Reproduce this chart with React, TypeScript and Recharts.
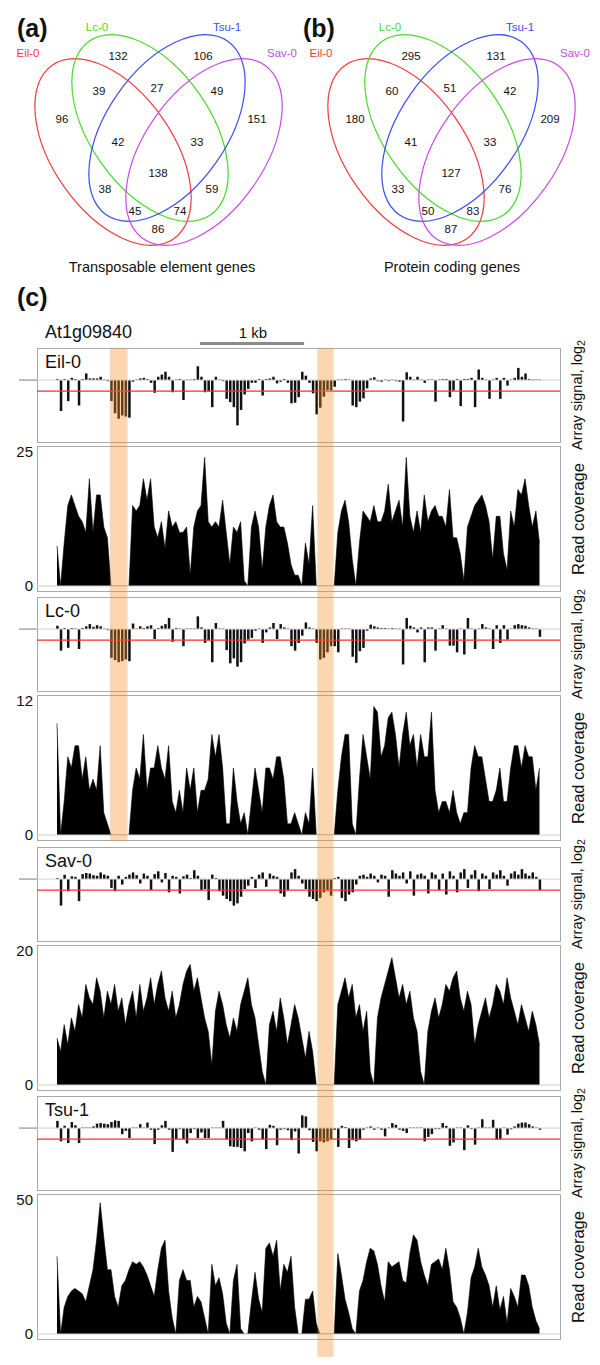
import React from 'react';
import {
  ComposedChart, ScatterChart, Scatter, Bar, Area, XAxis, YAxis,
  ReferenceLine, ReferenceArea,
} from 'recharts';

const FONT = "'Liberation Sans', Arial, Helvetica, sans-serif";

// ---------------- Venn data ----------------
const accessions = ['Eil-0', 'Lc-0', 'Tsu-1', 'Sav-0'];
const accessionColors = ['#f23a3a', '#48d92a', '#3a4cf2', '#c84ae6'];
// region order: L, T, EL, LT, TS, E, S, ELT, LTS, ELTS, ET, LS, ETS, ELS, ES
const vennRegions = ['L', 'T', 'EL', 'LT', 'TS', 'E', 'S', 'ELT', 'LTS', 'ELTS', 'ET', 'LS', 'ETS', 'ELS', 'ES'];
const teCounts = [132, 106, 39, 27, 49, 96, 151, 42, 33, 138, 38, 59, 45, 74, 86];
const pcCounts = [295, 131, 60, 51, 42, 180, 209, 41, 33, 127, 33, 76, 50, 83, 87];

// layout of the Venn drawing (chart coordinates)
const regionX = [118, 203, 99, 157, 217, 62, 257, 118, 197, 158, 105, 212, 135, 180, 158];
const regionY = [56, 56, 91, 88, 91, 119, 119, 142, 142, 173, 189, 189, 211, 211, 229];
const ellipseCX = [113, 150, 167, 204];
const ellipseCY = [152, 128, 128, 152];
const ellipseAngle = [55, 55, -55, -55];
const nameX = [28, 97, 227, 282];
const nameY = [53, 27, 27, 53];

// ---------------- Panel (c) data ----------------
const panelNames = ['Eil-0', 'Lc-0', 'Sav-0', 'Tsu-1'];
const thresholds = [-1, -1, -1, -1];
const coverageMax = [25, 12, 20, 50];

const eil0Signal = [
  0.1, -2.8, 0.1, -1.9, 0.2, 0.1, -2.3, 0.1, 0.6, 0.15, 0.15, 0.15, 0.3, 0.05, -0.1,
  -1.9, -3.0, -3.5, -3.2, -3.3, -3.4, -0.15, 0.05, 0.15, 0.2, 0.1, -0.25, -1.15, 0.3, 0.5,
  0.75, 0.3, -1.1, 0.05, 0.1, -1.8, 0.05, 0.05, 0.1, 1.25, 0.3, -1.1, -1.0, -2.45, 0.3,
  0.05, -0.1, -1.7, -2.0, -2.45, -4.1, -2.7, -1.3, -0.8, -0.25, -0.25, 0.1, -1.4, 0.1, 0.15,
  0.3, -0.3, -0.15, 0.1, -0.25, -2.1, -2.05, -1.55, 0.75, 0.4, -0.25, -1.2, -3.1, -2.5, -1.5,
  -0.9, -0.95, -0.6, 0.05, 0.05, 0.1, 0.05, -2.3, -2.45, -1.95, -1.65, -0.75, 0.15, 0.25, -0.1,
  -0.15, 0.05, -0.1, 0.05, -0.1, -0.15, -3.75, 0.7, 0.3, 0.05, 0.3, 0.05, -0.25, 0.05, 0.05,
  -1.95, 0.05, 0.1, 0.1, -1.55, -0.95, 0.1, -2.35, 0.1, 0.1, 0.2, -2.45, 0.95, 0.2, 0.05,
  -1.7, 0.05, 0.2, -1.7, 0.2, -0.5, 0.05, 0.2, 1.1, 0.3, 0.6, 0.1, 0.05, 0.05, 0.05,
];
const lc0Signal = [
  0.3, -1.95, 0.1, -1.7, 0.1, 0.05, -1.8, 0.1, 0.25, 0.45, 0.2, 0.35, 0.25, 0.05, -0.1,
  -2.6, -2.8, -3.0, -2.9, -2.75, -2.9, 0.5, 0.05, 0.25, 0.1, 0.25, 0.35, -0.9, 0.1, 0.3,
  0.45, 1.0, -1.15, 0.1, 0.05, -1.55, 0.05, 0.05, 0.05, 1.15, 0.15, -1.25, -1.0, -3.0, 0.55,
  0.05, 0.05, -1.9, -3.1, -2.65, -3.4, -3.0, -1.3, -0.95, -0.8, -0.15, 0.05, -1.25, -0.3, 0.15,
  0.55, -0.9, 0.45, 0.15, 0.05, -1.55, -1.95, -1.25, -0.6, 0.6, 0.15, 0.05, -1.25, -2.75, -2.6,
  -2.1, -1.55, -1.55, -2.1, 0.05, 0.05, 0.05, -2.5, -3.05, -2.0, -1.7, -0.15, 0.4, 0.25, 0.15,
  0.1, 0.1, 0.05, 0.1, 0.05, 0.05, -3.2, 1.0, 0.3, 0.15, -0.3, 0.15, -3.0, 0.15, 0.15,
  -1.95, 0.05, 0.35, 0.05, -1.5, -1.5, -2.1, 0.05, -2.3, 1.0, 0.05, -1.8, 0.05, 0.45, 0.15,
  0.05, -1.8, 0.35, -1.25, 0.35, -0.95, 0.05, 0.35, 0.45, 0.35, 0.3, 0.15, 0.05, 0.05, -0.7,
];
const sav0Signal = [
  0.1, -2.4, 0.4, -1.1, 0.25, 0.2, -2.0, 0.45, 0.55, 0.5, 0.35, 0.3, 0.6, 0.4, 0.3,
  -0.8, -1.1, 0.3, -0.5, 0.2, 0.4, 0.6, 0.35, -0.4, 0.5, 0.3, -1.0, 0.45, 0.7, -0.3,
  0.55, -1.2, 0.3, 0.2, -1.3, 0.25, 0.4, 0.1, 0.8, 0.3, -1.0, -0.9, -1.9, 0.4, 0.1,
  -1.1, -1.5, -1.8, -2.0, -2.4, -2.2, -1.6, -0.9, -0.6, 0.2, -0.8, 0.4, 0.6, -0.7, 0.5,
  0.3, 0.2, -1.3, -1.6, -1.0, 0.6, 0.9, 0.3, -0.4, -0.9, -1.6, -1.8, -2.0, -1.7, -1.2,
  -1.0, -1.5, 0.1, 0.2, -1.7, -2.0, -1.4, -1.2, -0.5, 0.3, 0.4, 0.2, 0.5, 0.3, -0.3,
  0.4, 0.3, -1.6, 0.8, 0.5, 0.3, 0.6, -0.4, 0.7, -1.5, 0.4, 0.5, 0.3, -1.3, 0.6,
  0.4, -1.0, 0.5, -1.4, 0.7, 0.3, -1.2, 0.6, 0.9, -0.8, 0.4, 0.8, -1.1, 0.5, 0.3,
  -0.9, 0.6, 0.4, 0.8, 0.3, -0.6, 0.5, 0.7, 0.4, 0.9, 0.5, 0.3, 0.6, 0.2, -1.0,
];
const tsu1Signal = [
  0.65, -1.2, 0.2, -1.35, 0.55, 0.25, -1.35, 0.05, 0.05, 0.05, 0.15, 0.4, 0.45, 0.4, 0.35,
  0.55, 0.7, 0.65, -0.55, -0.25, -0.9, 0.05, 0.05, 0.35, 0.05, 0.5, -0.15, -1.45, -0.15, 0.25,
  0.65, -0.15, -2.15, -1.0, -0.1, -1.0, -1.4, -0.45, -0.1, -0.9, -0.4, -0.9, -0.9, 0.05, 0.05,
  0.05, 0.65, -1.0, -1.65, -1.7, -1.7, -1.8, -2.1, -0.45, -1.2, 0.05, -0.15, -1.0, -1.9, 0.3,
  0.2, -1.55, -0.15, -0.1, -0.2, -1.1, -0.3, -2.3, 1.15, 1.05, -0.2, -1.25, -2.1, -1.2, -1.3,
  -1.2, -1.0, -0.15, -1.7, 0.2, 0.1, -1.8, -1.1, -1.2, -1.05, -0.15, 0.05, 0.15, -0.15, 0.05,
  -0.15, -0.75, 0.05, 0.45, 0.3, -0.15, -0.25, -0.45, 0.05, 0.05, 0.05, 0.05, -1.2, -0.8, -0.55,
  -0.1, -0.1, 0.45, 0.2, -1.6, -1.3, 0.05, 0.05, -2.0, 0.25, -0.1, -1.5, 0.05, 0.8, 0.05,
  0.05, 0.75, -1.05, -1.0, 0.05, -0.6, -0.1, 0.15, 0.4, 0.5, 0.5, 0.35, 0.15, 0.05, -0.15,
];

const eil0Coverage = [
  7.5, 0, 8, 15, 17, 15, 13, 12, 10, 20, 10, 17, 17, 11, 9,
  0, 0, 0, 0, 0, 0, 15, 14, 15, 20, 16, 20, 11, 9, 12,
  7, 14, 11, 12, 10, 10, 11, 2, 11, 14, 15, 24, 12, 11, 12,
  11, 16, 10, 4, 11, 10, 12, 1, 0, 11, 14, 11, 3, 11, 15,
  17, 12, 11, 11, 8, 4, 2, 2, 0, 8, 4, 15, 0, 0, 0,
  0, 0, 0, 10, 14, 16, 12, 5, 0, 8, 14, 13, 12, 15, 12,
  12, 14, 19, 12, 14, 16, 11, 24, 13, 10, 14, 10, 17, 12, 14,
  15, 13, 13, 11, 18, 9, 9, 6, 1, 11, 13, 15, 16, 17, 15,
  12, 5, 13, 13, 6, 3, 14, 11, 18, 17, 20, 15, 11, 14, 8,
];
const lc0Coverage = [
  10, 0, 3, 7, 6, 8, 8, 5, 7, 4, 5, 4, 8, 2, 1,
  0, 0, 0, 0, 0, 0, 4, 6, 5, 9, 4, 6, 6, 8, 6,
  5, 8, 3, 2, 4, 2, 6, 4, 6, 2, 4, 4, 5, 9, 7,
  9, 6, 1, 1, 6, 3, 1, 2, 0, 3, 6, 4, 2, 6, 6,
  5, 7, 7, 5, 1, 1, 2, 1, 0, 2, 1, 6, 0, 0, 0,
  0, 0, 0, 4, 7, 9, 9, 1, 0, 5, 9, 7, 5, 11.5, 11,
  7, 8, 10.5, 11, 9, 6, 9, 11, 8, 9, 6, 9, 7, 7, 11,
  4, 2, 3, 3, 2, 4, 2, 1, 2, 2, 6, 8, 7, 7, 5,
  3, 3, 4, 6, 3, 3, 6, 8, 8, 6, 8, 7, 7, 4, 6,
];
const sav0Coverage = [
  7, 5, 9, 6, 10, 8, 12, 10, 15, 13, 12, 16, 14, 10, 14,
  12, 15, 11, 13, 9, 12, 14, 10, 15, 11, 13, 16, 12, 15, 17,
  13, 11, 14, 10, 12, 15, 17, 18, 14, 16, 13, 10, 8, 3, 11,
  14, 12, 9, 7, 10, 8, 12, 14, 16, 12, 10, 6, 2, 0, 9,
  11, 8, 13, 10, 6, 9, 12, 10, 7, 4, 8, 5, 0, 0, 0,
  0, 0, 0, 12, 14, 16, 13, 15, 10, 12, 8, 11, 2, 0, 10,
  13, 15, 17, 19, 16, 13, 15, 12, 14, 10, 8, 2, 0, 8, 11,
  13, 10, 12, 15, 14, 16, 17, 13, 11, 14, 12, 6, 9, 11, 13,
  10, 12, 15, 14, 12, 16, 13, 11, 9, 12, 10, 8, 11, 9, 6,
];
const tsu1Coverage = [
  29, 0, 10, 14, 16, 17, 16, 15, 12, 18, 24, 35, 49, 36, 24,
  24, 14, 10, 18, 20, 24, 27, 26, 27, 25, 22, 18, 14, 24, 32,
  35, 16, 6, 0, 20, 24, 20, 20, 10, 14, 12, 6, 0, 26, 18,
  21, 15, 4, 0, 20, 26, 2, 0, 0, 12, 23, 13, 8, 32, 34,
  29, 35, 16, 26, 23, 29, 10, 0, 0, 13, 13, 16, 4, 0, 0,
  0, 0, 0, 30, 22, 13, 8, 2, 0, 16, 20, 27, 32, 31, 26,
  18, 12, 27, 25, 26, 27, 20, 19, 30, 37, 35, 27, 22, 18, 26,
  27, 28, 24, 32, 24, 12, 10, 6, 0, 8, 21, 25, 32, 25, 22,
  18, 10, 18, 9, 14, 4, 17, 14, 10, 22, 22, 18, 10, 5, 2,
];

const signals = [eil0Signal, lc0Signal, sav0Signal, tsu1Signal];
const coverages = [eil0Coverage, lc0Coverage, sav0Coverage, tsu1Coverage];

// highlighted regions (probe-index coordinates) and the last panel each one spans
const highlightStart = [14.7, 72.3];
const highlightEnd = [19.6, 76.8];
const highlightLastPanel = [1, 3];
// scale bar: 1 kb in probe-index units
const scaleBarStart = 39.7;
const scaleBarLength = 28.9;

// ---------------- layout ----------------
const CHART_W = 600;
const PLOT_LEFT = 37;
const PLOT_RIGHT = 40;
const PLOT_W = CHART_W - PLOT_LEFT - PLOT_RIGHT;
const SIG_H = 94;
const COV_H = 145;
const COV_GAP = 4;
const PANEL_TOPS = [348, 597, 847, 1096];
const OVERLAY_TOP = 330;
const OVERLAY_BOTTOM = 1357;
const BOX = '#a9a9a9';
const X_DOMAIN: [number, number] = [-5.55, 139.7];
const SIG_DOMAIN: [number, number] = [-5.6, 2.9];
const COV_PAD = 12;

function Txt({ x, y, size, children, anchor = 'start', bold = false, color = '#111' }: any) {
  const tx = anchor === 'middle' ? '-50%' : anchor === 'end' ? '-100%' : '0';
  return (
    <div
      style={{
        position: 'absolute', left: x, top: y - size * 0.49, fontSize: size,
        lineHeight: `${size}px`, fontWeight: bold ? 700 : 400, color,
        whiteSpace: 'nowrap', transform: `translateX(${tx})`,
      }}
    >
      {children}
    </div>
  );
}

function VLabel({ x, y, size, children }: any) {
  return (
    <div
      style={{
        position: 'absolute', left: x, top: y, fontSize: size, lineHeight: `${size}px`,
        whiteSpace: 'nowrap', color: '#111', transform: 'translate(-50%, -50%) rotate(-90deg)',
      }}
    >
      {children}
    </div>
  );
}

function Frame({ top, height }: any) {
  return (
    <div style={{
      position: 'absolute', left: PLOT_LEFT, top, width: PLOT_W + 1, height: height + 1,
      border: `1px solid ${BOX}`, boxSizing: 'border-box',
    }} />
  );
}

function Venn({ left, counts }: any) {
  const ellipses = accessions.map((name, k) => ({ x: ellipseCX[k], y: ellipseCY[k], k, name }));
  const names = accessions.map((name, k) => ({ x: nameX[k], y: nameY[k], k, name }));
  const nums = vennRegions.map((r, j) => ({ x: regionX[j], y: regionY[j], region: r, count: counts[j] }));
  return (
    <div style={{ position: 'absolute', left, top: 0, width: 300, height: 280 }}>
      <ScatterChart width={300} height={280} margin={{ top: 0, right: 0, bottom: 0, left: 0 }}>
        <XAxis type="number" dataKey="x" domain={[0, 300]} hide />
        <YAxis type="number" dataKey="y" domain={[0, 280]} reversed hide />
        <Scatter
          data={ellipses}
          isAnimationActive={false}
          shape={(p: any) => (
            <ellipse
              cx={p.cx} cy={p.cy} rx={106} ry={60}
              transform={`rotate(${ellipseAngle[p.payload.k]} ${p.cx} ${p.cy})`}
              fill="none" stroke={accessionColors[p.payload.k]} strokeWidth={1.2}
            />
          )}
        />
        <Scatter
          data={names}
          isAnimationActive={false}
          shape={(p: any) => (
            <text x={p.cx} y={p.cy} textAnchor="middle" dominantBaseline="central"
              fontSize={11.5} fill={accessionColors[p.payload.k]} fontFamily={FONT}>
              {p.payload.name}
            </text>
          )}
        />
        <Scatter
          data={nums}
          isAnimationActive={false}
          shape={(p: any) => (
            <text x={p.cx} y={p.cy} textAnchor="middle" dominantBaseline="central"
              fontSize={11.5} fill="#111" fontFamily={FONT}>
              {p.payload.count}
            </text>
          )}
        />
      </ScatterChart>
    </div>
  );
}

function SignalPanel({ values, threshold, top }: any) {
  const data = values.map((v: number, i: number) => ({ i, v }));
  return (
    <>
      <Frame top={top} height={SIG_H} />
      <div style={{ position: 'absolute', left: 0, top, width: CHART_W, height: SIG_H }}>
        <ComposedChart width={CHART_W} height={SIG_H} data={data}
          margin={{ top: 0, right: PLOT_RIGHT, bottom: 0, left: 0 }}>
          <XAxis dataKey="i" type="number" domain={X_DOMAIN} allowDataOverflow hide />
          <YAxis type="number" domain={SIG_DOMAIN} allowDataOverflow ticks={[0]} interval={0}
            width={PLOT_LEFT} tickSize={18} tickLine={{ stroke: '#7a7a7a' }} tickFormatter={() => ''}
            axisLine={false} />
          <ReferenceLine y={0} stroke="#d2d2d2" />
          <ReferenceLine y={threshold} stroke="#ff2b2b" strokeWidth={1.3} />
          <Bar dataKey="v" fill="#111" barSize={2.5} isAnimationActive={false} />
        </ComposedChart>
      </div>
    </>
  );
}

function CoveragePanel({ values, max, top }: any) {
  const data = values.map((c: number, i: number) => ({ i, c }));
  return (
    <>
      <Frame top={top} height={COV_H} />
      <div style={{ position: 'absolute', left: 0, top: top - COV_PAD, width: CHART_W, height: COV_H + 2 * COV_PAD }}>
        <ComposedChart width={CHART_W} height={COV_H + 2 * COV_PAD} data={data}
          margin={{ top: COV_PAD, right: PLOT_RIGHT, bottom: COV_PAD, left: 0 }}>
          <XAxis dataKey="i" type="number" domain={X_DOMAIN} allowDataOverflow hide />
          <YAxis type="number" domain={[0, max]} allowDataOverflow ticks={[0, max]} interval={0}
            width={PLOT_LEFT} tickSize={0} tickMargin={4} tickLine={false}
            axisLine={false} padding={{ top: 6, bottom: 5 }}
            tick={{ fontSize: 15, fill: '#111', fontFamily: FONT }} />
          <ReferenceLine y={0} stroke="#cccccc" />
          <Area type="linear" dataKey="c" stroke="#000" strokeWidth={0.6} fill="#000"
            fillOpacity={1} isAnimationActive={false} />
        </ComposedChart>
      </div>
    </>
  );
}

function Overlay() {
  const h = OVERLAY_BOTTOM - OVERLAY_TOP;
  const bandTop = PANEL_TOPS[0] - OVERLAY_TOP;
  const bandBottom = (last: number) =>
    last === PANEL_TOPS.length - 1
      ? h
      : PANEL_TOPS[last] + SIG_H + COV_GAP + COV_H + 1 - OVERLAY_TOP;
  return (
    <div style={{ position: 'absolute', left: 0, top: OVERLAY_TOP, width: CHART_W, height: h, pointerEvents: 'none' }}>
      <ComposedChart width={CHART_W} height={h} data={[{ i: X_DOMAIN[0], y: 0 }, { i: X_DOMAIN[1], y: h }]}
        margin={{ top: 0, right: PLOT_RIGHT, bottom: 0, left: PLOT_LEFT }}>
        <XAxis dataKey="i" type="number" domain={X_DOMAIN} allowDataOverflow hide />
        <YAxis dataKey="y" type="number" domain={[0, h]} reversed allowDataOverflow hide />
        {highlightStart.map((s, k) => (
          <ReferenceArea key={k} x1={s} x2={highlightEnd[k]} y1={bandTop} y2={bandBottom(highlightLastPanel[k])}
            fill="#f69126" fillOpacity={0.37} stroke="none" ifOverflow="visible" />
        ))}
        <ReferenceLine
          segment={[{ x: scaleBarStart, y: 13.5 }, { x: scaleBarStart + scaleBarLength, y: 13.5 }]}
          stroke="#8a8a8a" strokeWidth={3} ifOverflow="visible" />
      </ComposedChart>
    </div>
  );
}

export default function App() {
  return (
    <div style={{
      position: 'absolute', left: 0, top: 0, width: 600, height: 1365, background: '#fff',
      fontFamily: FONT, color: '#111', overflow: 'hidden',
    }}>
      <Txt x={17} y={28} size={25} bold>(a)</Txt>
      <Txt x={303} y={28} size={25} bold>(b)</Txt>
      <Venn left={0} counts={teCounts} />
      <Venn left={293} counts={pcCounts} />
      <Txt x={162} y={267} size={14.5} anchor="middle">Transposable element genes</Txt>
      <Txt x={452} y={267} size={14.5} anchor="middle">Protein coding genes</Txt>
      <Txt x={17} y={297} size={25} bold>(c)</Txt>
      <Txt x={45} y={332} size={18}>At1g09840</Txt>
      <Txt x={253} y={332} size={15} anchor="middle">1 kb</Txt>

      {panelNames.map((name, k) => {
        const top = PANEL_TOPS[k];
        const covTop = top + SIG_H + COV_GAP;
        return (
          <React.Fragment key={name}>
            <SignalPanel values={signals[k]} threshold={thresholds[k]} top={top} />
            <CoveragePanel values={coverages[k]} max={coverageMax[k]} top={covTop} />
            <Txt x={PLOT_LEFT + 8} y={top + 14} size={18}>{name}</Txt>
            <VLabel x={578} y={top + SIG_H / 2} size={14.5}>
              Array signal, log<span style={{ fontSize: '0.72em', position: 'relative', top: '0.3em' }}>2</span>
            </VLabel>
            <VLabel x={578} y={covTop + COV_H / 2} size={16.5}>Read coverage</VLabel>
          </React.Fragment>
        );
      })}

      <Overlay />
    </div>
  );
}
